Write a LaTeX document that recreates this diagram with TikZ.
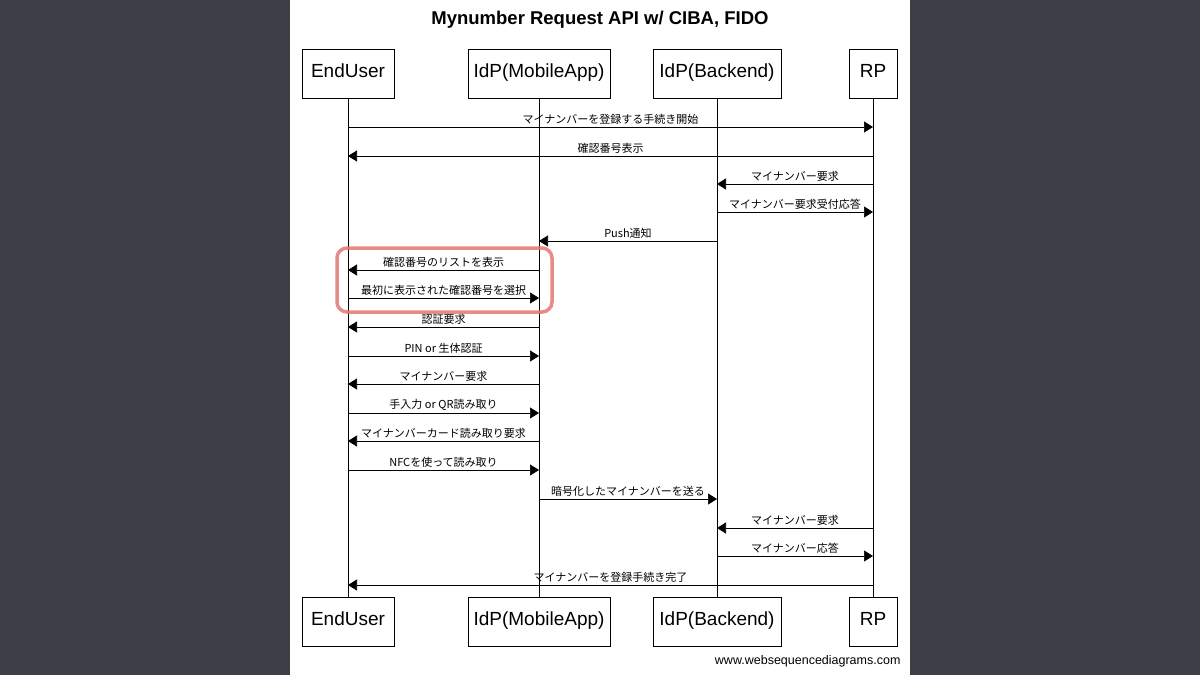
\documentclass[tikz,border=0pt]{standalone}
\usepackage{fontspec}
\setmainfont{Liberation Sans}
\newfontfamily\cjk{Noto Sans CJK JP}
\usetikzlibrary{arrows.meta}
\definecolor{board}{HTML}{3C4046}
\definecolor{hl}{HTML}{E07A72}
\begin{document}
\begin{tikzpicture}[x=1pt,y=-1pt,
 actor/.style={draw,thick,fill=white,minimum height=49pt,font=\fontsize{19}{19}\selectfont,inner sep=0pt,text height=0.88em,text depth=0.08em},
 msg/.style={-{Triangle[length=9pt,width=11pt]},line width=0.6pt},
 lbl/.style={font=\cjk\fontsize{11}{11}\selectfont,above,inner sep=2pt},
 life/.style={line width=0.6pt}]
\useasboundingbox (0,0) rectangle (1200,675);
\fill[board] (0,0) rectangle (1200,675);
\fill[white] (290,0) rectangle (910,675);
\node[font=\bfseries\fontsize{18.5}{18.5}\selectfont] (title) at (600,20) {Mynumber Request API w/ CIBA, FIDO};
\foreach \n/\t/\x/\w in {eu/EndUser/348/92, ma/IdP(MobileApp)/539/142, be/IdP(Backend)/717/128, rp/RP/873/48}{
  \node[actor,minimum width=\w pt] (\n top) at (\x,73.5) {\t};
  \node[actor,minimum width=\w pt] (\n bot) at (\x,621.5) {\t};
  \draw[life] (\n top) -- (\n bot);
}
\foreach \y/\a/\b/\t in {
127/eu/rp/マイナンバーを登録する手続き開始,
156/rp/eu/確認番号表示,
184/rp/be/マイナンバー要求,
212/be/rp/マイナンバー要求受付応答,
241/be/ma/Push通知,
270/ma/eu/確認番号のリストを表示,
298/eu/ma/最初に表示された確認番号を選択,
327/ma/eu/認証要求,
356/eu/ma/PIN or 生体認証,
384/ma/eu/マイナンバー要求,
413/eu/ma/手入力 or QR読み取り,
441/ma/eu/マイナンバーカード読み取り要求,
470/eu/ma/NFCを使って読み取り,
499/ma/be/暗号化したマイナンバーを送る,
528/rp/be/マイナンバー要求,
556/be/rp/マイナンバー応答,
585/rp/eu/マイナンバーを登録手続き完了}{
  \coordinate (s) at (\a top.south |- 0,\y);
  \coordinate (e) at (\b top.south |- 0,\y);
  \draw[msg] (s) -- (e) node[lbl,midway] {\t};
}
\draw[hl,line width=3.5pt,rounded corners=10pt,opacity=0.85] (337,248) rectangle (552,312);
\node[font=\fontsize{12.5}{12.5}\selectfont,anchor=east] (wsd) at (904,661) {www.websequencediagrams.com};
\end{tikzpicture}
\end{document}
